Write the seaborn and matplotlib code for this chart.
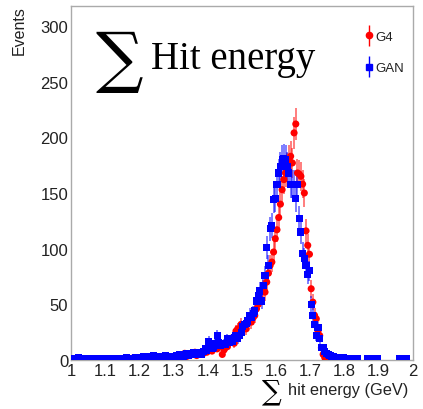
import numpy as np
import pandas as pd
import matplotlib
matplotlib.use("Agg")
import matplotlib.pyplot as plt
from matplotlib.legend_handler import HandlerErrorbar
from matplotlib.container import ErrorbarContainer
import seaborn as sns

# bin centers: 200 bins of width 0.005 between 1 and 2
bin_lo = 1.0
bin_w = 0.005

g4_counts = [
    0, 1, 0, 0, 1, 0, 0, 1, 0, 0, 1, 0, 1, 0, 0, 1, 0, 0, 1, 0,          # 1.00-1.10
    1, 0, 1, 0, 1, 1, 0, 1, 0, 1, 1, 0, 1, 1, 0, 1, 2, 1, 1, 1,          # 1.10-1.20
    1, 2, 1, 1, 2, 1, 3, 1, 2, 1, 2, 2, 1, 3, 2, 1, 2, 3, 2, 1,          # 1.20-1.30
    2, 3, 2, 4, 3, 5, 6, 3, 5, 4, 6, 5, 7, 4, 6, 5, 7, 6, 8, 7,          # 1.30-1.40
    9, 10, 8, 11, 13, 10, 12, 14, 5, 9, 13, 12, 16, 18, 20, 15, 26, 28, 22, 32,   # 1.40-1.50
    30, 32, 28, 35, 37, 34, 38, 40, 46, 50, 55, 62, 64, 61, 70, 78, 85, 88, 97, 109,  # 1.50-1.60
    117, 128, 140, 153, 162, 168, 173, 180, 183, 177, 204, 212, 168, 167, 165, 158, 150, 116, 103, 95,  # 1.60-1.70
    64, 52, 40, 37, 26, 22, 11, 5, 2, 1, 0, 0, 0, 0, 0, 0, 0, 0, 0, 0,  # 1.70-1.80
    0, 0, 0, 0, 0, 0, 0, 0, 0, 0, 0, 0, 0, 0, 0, 0, 0, 0, 0, 0,          # 1.80-1.90
    0, 0, 0, 0, 0, 0, 0, 0, 0, 0, 0, 0, 0, 0, 0, 0, 0, 0, 0, 0,          # 1.90-2.00
]

gan_counts = [
    1, 1, 0, 1, 2, 1, 0, 1, 1, 0, 1, 1, 0, 1, 1, 0, 1, 1, 0, 1,          # 1.00-1.10
    1, 0, 1, 1, 1, 0, 1, 1, 1, 0, 1, 1, 2, 1, 1, 1, 1, 2, 1, 2,          # 1.10-1.20
    2, 1, 3, 2, 2, 1, 3, 2, 4, 2, 3, 1, 2, 3, 2, 4, 3, 2, 3, 2,          # 1.20-1.30
    3, 4, 3, 5, 4, 3, 5, 6, 4, 5, 5, 7, 6, 5, 7, 6, 5, 8, 10, 9,         # 1.30-1.40
    17, 12, 10, 11, 15, 22, 16, 13, 14, 15, 14, 19, 16, 18, 17, 20, 22, 19, 22, 25,  # 1.40-1.50
    30, 32, 33, 35, 40, 38, 42, 44, 53, 58, 62, 53, 67, 76, 101, 85, 118, 121, 144, 145,  # 1.50-1.60
    158, 168, 174, 180, 181, 180, 174, 168, 158, 158, 158, 145, 158, 127, 115, 96, 91, 85, 77, 80,  # 1.60-1.70
    50, 40, 32, 22, 29, 19, 11, 11, 8, 6, 5, 4, 3, 3, 2, 2, 1, 1, 1, 2,  # 1.70-1.80
    1, 1, 1, 1, 1, 1, 1, 1, 0, 0, 0, 0, 0, 1, 1, 1, 1, 1, 0, 1,          # 1.80-1.90
    0, 0, 0, 0, 0, 0, 0, 0, 0, 0, 0, 0, 1, 1, 1, 0, 1, 0, 0, 0,          # 1.90-2.00
]

series_names = ["G4", "GAN"]
series_colors = ["#ff0000", "#0000ff"]
series_markers = ["o", "s"]

x_ticks = [1.0, 1.1, 1.2, 1.3, 1.4, 1.5, 1.6, 1.7, 1.8, 1.9, 2.0]
x_tick_labels = ["1", "1.1", "1.2", "1.3", "1.4", "1.5", "1.6", "1.7", "1.8", "1.9", "2"]
y_ticks = [0, 50, 100, 150, 200, 250, 300]

centers = bin_lo + bin_w * (np.arange(len(g4_counts)) + 0.5)

frames = []
for name, counts in zip(series_names, [g4_counts, gan_counts]):
    c = np.asarray(counts, dtype=float)
    df = pd.DataFrame({"x": centers, "y": c, "err": np.sqrt(c), "series": name})
    frames.append(df[df["y"] > 0])
data = pd.concat(frames, ignore_index=True)

sns.set_style("white")
plt.rcParams["font.family"] = ["Liberation Sans", "DejaVu Sans"]

fig = plt.figure(figsize=(4.23, 4.10), dpi=100)
ax = fig.add_axes([0.168, 0.1195, 0.808, 0.8635])

for name, color, marker in zip(series_names, series_colors, series_markers):
    d = data[data["series"] == name]
    ax.errorbar(d["x"], d["y"], yerr=d["err"], fmt="none", ecolor=color,
                alpha=0.55, elinewidth=1.3, capsize=0, zorder=2)
    sns.scatterplot(data=d, x="x", y="y", color=color, marker=marker, s=26,
                    edgecolor="none", linewidth=0, ax=ax, zorder=3, legend=False)

ax.set_xlim(1.0, 2.0)
ax.set_ylim(0, 318)
ax.set_xticks(x_ticks)
ax.set_xticklabels(x_tick_labels)
ax.set_yticks(y_ticks)
ax.set_xticks(np.arange(1.0, 2.0001, 0.02), minor=True)
ax.set_yticks(np.arange(0, 318, 10), minor=True)
ax.tick_params(axis="both", which="major", direction="in", length=7, width=0.8,
               color="#888888", labelsize=12, labelcolor="#222222", pad=2)
ax.tick_params(axis="both", which="minor", direction="in", length=4, width=0.8,
               color="#888888")
ax.tick_params(top=False, right=False, which="both")
for sp in ax.spines.values():
    sp.set_color("#aaaaaa")
    sp.set_linewidth(1.0)
ax.set_xlabel("")
ax.set_ylabel("")

fig.text(0.045, 0.985, "Events", rotation=90, ha="center", va="top",
         fontsize=11.5, color="#222222")

# title inside the plot
ax.text(0.07, 0.845, "\u2211", transform=ax.transAxes, fontsize=48,
        family=["DejaVu Serif"], va="center", ha="left", color="black")
ax.text(0.235, 0.853, "Hit energy", transform=ax.transAxes, fontsize=28,
        family=["Liberation Serif", "DejaVu Serif"], va="center", ha="left",
        color="black")

# x label
fig.text(0.62, 0.012, "\u2211", fontsize=20, family=["DejaVu Serif"],
         ha="left", va="bottom", color="black")
fig.text(0.965, 0.047, "hit energy (GeV)", fontsize=11.8, ha="right",
         va="center", color="#222222")

# legend
handles = []
for name, color, marker in zip(series_names, series_colors, series_markers):
    h = ax.errorbar([np.nan], [np.nan], yerr=[1], fmt=marker, color=color,
                    ecolor=color, markersize=4.5, elinewidth=1, alpha=1,
                    capsize=0, label=name)
    handles.append(h)
leg = ax.legend(handles=handles, labels=series_names, loc="upper left",
                bbox_to_anchor=(0.845, 0.945), frameon=False, fontsize=9.5,
                handlelength=0.6, handletextpad=0.2,
                labelspacing=1.45, borderaxespad=0,
                handler_map={ErrorbarContainer: HandlerErrorbar(xerr_size=0.3, yerr_size=0.8)})
for t in leg.get_texts():
    t.set_color("#222222")

fig.savefig("out.png", dpi=100)
